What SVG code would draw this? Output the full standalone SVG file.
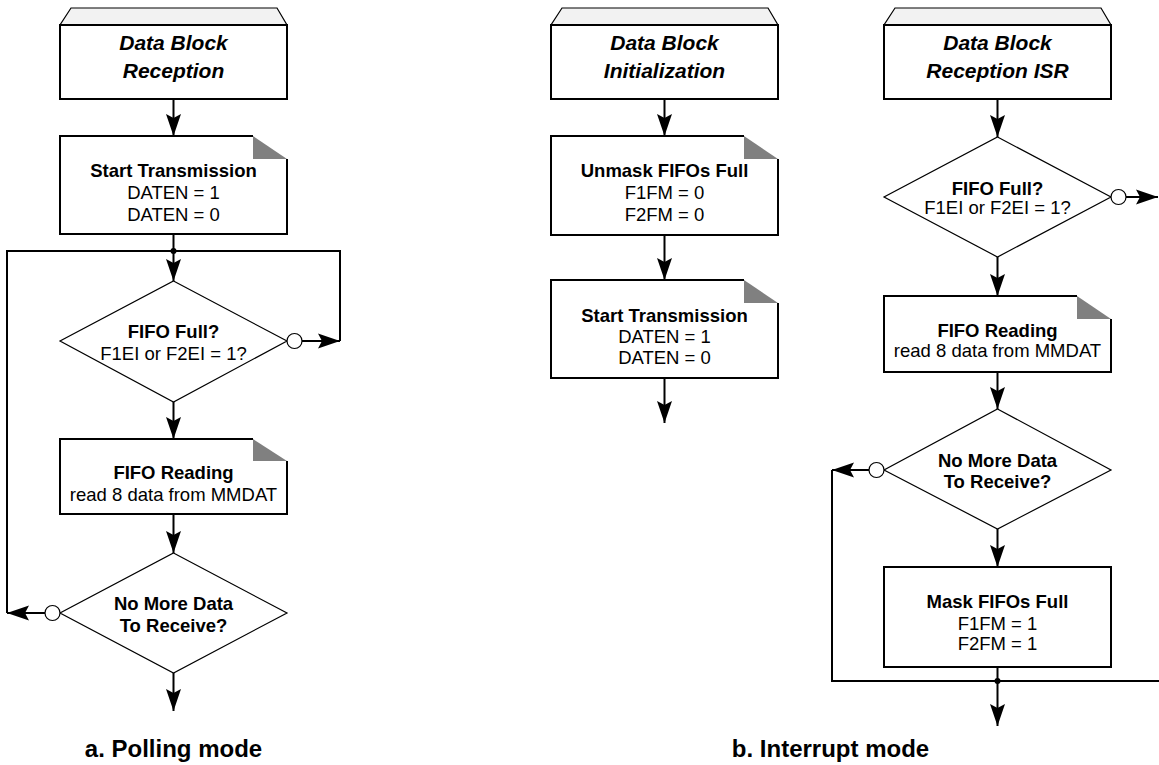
<svg xmlns="http://www.w3.org/2000/svg" width="1159" height="765" viewBox="0 0 1159 765">
<style>
  .trap { fill: #f2f2f2; stroke: #000; stroke-width: 1.2; }
  .box { fill: #fff; stroke: #000; stroke-width: 2; }
  .outline { fill: none; stroke: #000; stroke-width: 2; stroke-linejoin: miter; }
  .fold { fill: #808080; stroke: none; }
  .dia { fill: #fff; stroke: #000; stroke-width: 1.2; }
  .circ { fill: #fff; stroke: #000; stroke-width: 1.2; }
  .conn { fill: none; stroke: #000; stroke-width: 2; }
  .arr { fill: none; stroke: #000; stroke-width: 2; marker-end: url(#ah); }
  .dot { fill: #000; }
  text { font-family: "Liberation Sans", Arial, Helvetica, sans-serif; fill: #000; text-anchor: middle; }
  .title { font-size: 21px; font-weight: bold; font-style: italic; }
  .bold { font-size: 18.5px; font-weight: bold; }
  .reg { font-size: 18.5px; }
  .cap { font-size: 24px; font-weight: bold; }
</style>
<defs>
  <marker id="ah" markerUnits="userSpaceOnUse" markerWidth="26" markerHeight="18" viewBox="0 -9 26 18" refX="22" refY="0" orient="auto">
    <path d="M0,-7.5 L22,0 L0,7.5 L4,0 Z" fill="#000"/>
  </marker>
</defs>

<!-- ===== a. Polling mode ===== -->
<g id="a_title">
  <polygon class="trap" points="71,8 277,8 287,25 60,25"/>
  <rect class="box" x="60" y="25" width="227" height="74"/>
  <text class="title" x="173.5" y="50">Data Block</text>
  <text class="title" x="173.5" y="78">Reception</text>
</g>
<g id="a_start">
  <polygon points="60,136 253,136 287,159 287,234 60,234" fill="#fff"/>
  <polygon class="fold" points="253,136 287,159 253,159"/>
  <path class="outline" d="M253,136 H60 V234 H287 V159"/>
  <text class="bold" x="173.5" y="177">Start Transmission</text>
  <text class="reg" x="173.5" y="199">DATEN = 1</text>
  <text class="reg" x="173.5" y="221">DATEN = 0</text>
</g>
<g id="a_full">
  <polygon class="dia" points="173.5,281 287,341 173.5,402 60,341"/>
  <text class="bold" x="173.5" y="338">FIFO Full?</text>
  <text class="reg" x="173.5" y="360">F1EI or F2EI = 1?</text>
</g>
<g id="a_read">
  <polygon points="60,439 253,439 287,461 287,514 60,514" fill="#fff"/>
  <polygon class="fold" points="253,439 287,461 253,461"/>
  <path class="outline" d="M253,439 H60 V514 H287 V461"/>
  <text class="bold" x="173.5" y="479">FIFO Reading</text>
  <text class="reg" x="173.5" y="501">read 8 data from MMDAT</text>
</g>
<g id="a_more">
  <polygon class="dia" points="173.5,553 287,613 173.5,673 60,613"/>
  <text class="bold" x="173.5" y="610">No More Data</text>
  <text class="bold" x="173.5" y="632">To Receive?</text>
</g>
<g id="a_caption">
  <text class="cap" x="173.5" y="757">a. Polling mode</text>
</g>

<!-- ===== b. Interrupt mode: initialization ===== -->
<g id="b_init_title">
  <polygon class="trap" points="562,8 768,8 778,25 551,25"/>
  <rect class="box" x="551" y="25" width="227" height="74"/>
  <text class="title" x="664.5" y="50">Data Block</text>
  <text class="title" x="664.5" y="78">Initialization</text>
</g>
<g id="b_unmask">
  <polygon points="551,136 744,136 778,159 778,235 551,235" fill="#fff"/>
  <polygon class="fold" points="744,136 778,159 744,159"/>
  <path class="outline" d="M744,136 H551 V235 H778 V159"/>
  <text class="bold" x="664.5" y="177">Unmask FIFOs Full</text>
  <text class="reg" x="664.5" y="199">F1FM = 0</text>
  <text class="reg" x="664.5" y="221">F2FM = 0</text>
</g>
<g id="b_start">
  <polygon points="551,280 744,280 778,303 778,378 551,378" fill="#fff"/>
  <polygon class="fold" points="744,280 778,303 744,303"/>
  <path class="outline" d="M744,280 H551 V378 H778 V303"/>
  <text class="bold" x="664.5" y="322">Start Transmission</text>
  <text class="reg" x="664.5" y="343">DATEN = 1</text>
  <text class="reg" x="664.5" y="364">DATEN = 0</text>
</g>

<!-- ===== b. Interrupt mode: ISR ===== -->
<g id="b_isr_title">
  <polygon class="trap" points="895,8 1101,8 1111,25 884,25"/>
  <rect class="box" x="884" y="25" width="227" height="74"/>
  <text class="title" x="997.5" y="50">Data Block</text>
  <text class="title" x="997.5" y="78">Reception ISR</text>
</g>
<g id="b_full">
  <polygon class="dia" points="997.5,137 1111,197 997.5,257 884,197"/>
  <text class="bold" x="997.5" y="195">FIFO Full?</text>
  <text class="reg" x="997.5" y="214">F1EI or F2EI = 1?</text>
</g>
<g id="b_read">
  <polygon points="884,296 1077,296 1111,319 1111,372 884,372" fill="#fff"/>
  <polygon class="fold" points="1077,296 1111,319 1077,319"/>
  <path class="outline" d="M1077,296 H884 V372 H1111 V319"/>
  <text class="bold" x="997.5" y="337">FIFO Reading</text>
  <text class="reg" x="997.5" y="357">read 8 data from MMDAT</text>
</g>
<g id="b_more">
  <polygon class="dia" points="997.5,409 1111,470 997.5,529 884,470"/>
  <text class="bold" x="997.5" y="467">No More Data</text>
  <text class="bold" x="997.5" y="488">To Receive?</text>
</g>
<g id="b_mask">
  <rect class="box" x="884" y="567" width="227" height="100"/>
  <text class="bold" x="997.5" y="608">Mask FIFOs Full</text>
  <text class="reg" x="997.5" y="630">F1FM = 1</text>
  <text class="reg" x="997.5" y="650">F2FM = 1</text>
</g>
<g id="b_caption">
  <text class="cap" x="830.5" y="757">b. Interrupt mode</text>
</g>

<!-- ===== connectors ===== -->
<g id="connectors">
  <!-- a -->
  <path class="arr" d="M173.5,99 V136"/>
  <path class="conn" d="M173.5,234 V251"/>
  <path class="arr" d="M173.5,251 V281"/>
  <path class="arr" d="M173.5,402 V439"/>
  <path class="arr" d="M173.5,514 V553"/>
  <path class="arr" d="M173.5,673 V711"/>
  <circle class="circ" cx="294.5" cy="341" r="7.5"/>
  <path class="arr" d="M302,341 H340"/>
  <path class="conn" d="M340,341 V251 H173.5"/>
  <circle class="circ" cx="52.5" cy="613" r="7.5"/>
  <path class="arr" d="M45,613 H7"/>
  <path class="conn" d="M7,613 V251 H173.5"/>
  <circle class="dot" cx="173.5" cy="251" r="3"/>
  <!-- b init -->
  <path class="arr" d="M664.5,99 V136"/>
  <path class="arr" d="M664.5,235 V280"/>
  <path class="arr" d="M664.5,378 V423"/>
  <!-- b isr -->
  <path class="arr" d="M997.5,99 V137"/>
  <circle class="circ" cx="1118.5" cy="197" r="7.5"/>
  <path class="arr" d="M1126,197 H1158"/>
  <path class="arr" d="M997.5,257 V296"/>
  <path class="arr" d="M997.5,372 V409"/>
  <circle class="circ" cx="876.5" cy="470" r="7.5"/>
  <path class="arr" d="M869,470 H832"/>
  <path class="conn" d="M832,470 V681 H1159"/>
  <path class="arr" d="M997.5,529 V567"/>
  <path class="arr" d="M997.5,667 V726"/>
  <circle class="dot" cx="997.5" cy="681" r="3"/>
</g>
</svg>
